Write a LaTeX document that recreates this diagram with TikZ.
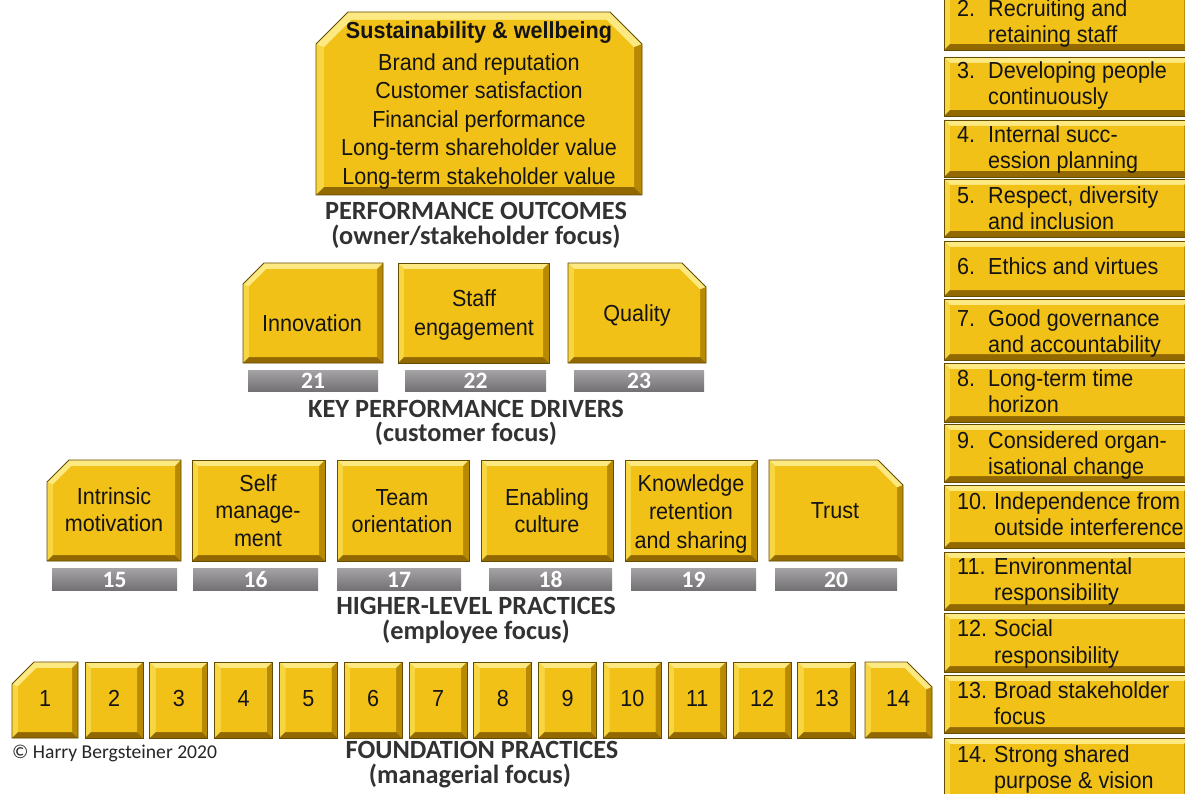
\documentclass[tikz,border=0pt]{standalone}
\usepackage{fontspec}
\setmainfont{Liberation Sans}
\newfontfamily\boxfont[FakeStretch=0.93]{Liberation Sans}
\newfontfamily\calfont{Carlito}
\definecolor{gF}{RGB}{242,193,24}
\definecolor{gT}{RGB}{253,233,130}
\definecolor{gL}{RGB}{248,214,66}
\definecolor{gR}{RGB}{184,138,4}
\definecolor{gB}{RGB}{145,105,0}
\definecolor{gE}{RGB}{100,76,0}
\definecolor{barTop}{RGB}{165,163,165}
\definecolor{barBot}{RGB}{115,113,115}
\definecolor{lbltxt}{RGB}{50,50,50}
\newcommand\corners[2]{%
  \pgfmathsetmacro\dk{0.414*#1}%
  \ifodd\gmode\relax
    \coordinate (#2a) at (\xa+#1, \ya+\cc+\dk);
    \coordinate (#2b) at (\xa+\cc+\dk, \ya+#1);
  \else
    \coordinate (#2a) at (\xa+#1, \ya+#1);
    \coordinate (#2b) at (\xa+#1, \ya+#1);
  \fi
  \ifnum\gmode>1\relax
    \coordinate (#2c) at (\xb-\cc-\dk, \ya+#1);
    \coordinate (#2d) at (\xb-#1, \ya+\cc+\dk);
  \else
    \coordinate (#2c) at (\xb-#1, \ya+#1);
    \coordinate (#2d) at (\xb-#1, \ya+#1);
  \fi
  \coordinate (#2e) at (\xb-#1, \yb-#1);
  \coordinate (#2f) at (\xa+#1, \yb-#1);
}
\newcommand\gbox[7]{%
  \def\xa{#1}\def\ya{#2}\def\xb{#3}\def\yb{#4}\def\gmode{#5}\def\cc{#6}%
  \corners{0}{o}\corners{#7}{i}%
  \fill[gT] (oa)--(ob)--(oc)--(od)--(oe)--(of)--cycle;
  \fill[gL] (oa)--(ia)--(if)--(of)--cycle;
  \fill[gR] (od)--(id)--(ie)--(oe)--cycle;
  \fill[gB] (of)--(if)--(ie)--(oe)--cycle;
  \fill[gF] (ia)--(ib)--(ic)--(id)--(ie)--(if)--cycle;
  \draw[gE,line width=0.8pt] (oa)--(ob)--(oc)--(od)--(oe)--(of)--cycle;
}
\newcommand\gbar[5]{%
  \shade[top color=barTop,bottom color=barBot] (#2,#3) rectangle (#4,#5);
}
\tikzset{
  boxtext/.style={font=\boxfont\fontsize{23.2}{26}\selectfont, text=black!92, inner sep=0pt},
  boldtext/.style={font=\boxfont\bfseries\fontsize{23.2}{26}\selectfont, text=black!92, inner sep=0pt},
  lbl/.style={font=\calfont\bfseries\fontsize{26.3}{30}\selectfont, text=lbltxt, inner sep=0pt, anchor=base},
  barnum/.style={font=\calfont\bfseries\fontsize{23.5}{26}\selectfont, text=white, inner sep=0pt, anchor=base},
  copyr/.style={font=\calfont\fontsize{19.6}{22}\selectfont, text=black!85, inner sep=0pt, anchor=base west}
}
\newcommand\ct[4]{\node[boxtext,anchor=base] (#1) at (#2,#3+8) {#4};}
\newcommand\rt[4]{\node[boxtext,anchor=base west] (#1) at (#2,#3+8) {#4};}
\begin{document}
\begin{tikzpicture}[x=1pt,y=-1pt]
\useasboundingbox (0,0) rectangle (1185,794);
\fill[white] (0,0) rectangle (1185,794);

% ---------- top box ----------
\gbox{316}{12}{642}{195}{3}{32}{8}
\node[boldtext,anchor=base] (top0) at (479,31+8) {Sustainability \& wellbeing};
\ct{top1}{479}{63}{Brand and reputation}
\ct{top2}{479}{91}{Customer satisfaction}
\ct{top3}{479}{120}{Financial performance}
\ct{top4}{479}{148}{Long-term shareholder value}
\ct{top5}{479}{177}{Long-term stakeholder value}
\node[lbl] (po1) at (476,212+8) {PERFORMANCE OUTCOMES};
\node[lbl] (po2) at (476,237+8) {(owner/stakeholder focus)};

% ---------- key performance drivers ----------
\gbox{243}{263}{383}{363}{1}{21}{6}
\gbox{398}{263}{549}{363}{0}{0}{6}
\gbox{568}{263}{706}{363}{2}{24}{6}
\ct{k1}{312}{323}{Innovation}
\ct{k2a}{474}{298}{Staff}
\ct{k2b}{474}{327}{engagement}
\ct{k3}{637}{313}{Quality}
\gbar{b21}{248}{370}{378}{391}
\gbar{b22}{405}{370}{546}{391}
\gbar{b23}{574}{370}{704}{391}
\node[barnum] (n21) at (313,380.5+8) {21};
\node[barnum] (n22) at (475.5,380.5+8) {22};
\node[barnum] (n23) at (639,380.5+8) {23};
\node[lbl] (kd1) at (466,409+8) {KEY PERFORMANCE DRIVERS};
\node[lbl] (kd2) at (466,433+8) {(customer focus)};

% ---------- higher-level practices ----------
\gbox{47}{460}{181}{561}{1}{22}{6}
\gbox{192}{460}{325}{561}{0}{0}{6}
\gbox{337}{460}{469}{561}{0}{0}{6}
\gbox{481}{460}{613}{561}{0}{0}{6}
\gbox{625}{460}{757}{561}{0}{0}{6}
\gbox{769}{460}{903}{561}{2}{25}{6}
\ct{h1a}{114}{496}{Intrinsic}
\ct{h1b}{114}{523}{motivation}
\ct{h2a}{258}{483}{Self}
\ct{h2b}{258}{510}{manage-}
\ct{h2c}{258}{538}{ment}
\ct{h3a}{402}{497}{Team}
\ct{h3b}{402}{524}{orientation}
\ct{h4a}{547}{497}{Enabling}
\ct{h4b}{547}{524}{culture}
\ct{h5a}{691}{483}{Knowledge}
\ct{h5b}{691}{511}{retention}
\ct{h5c}{691}{540}{and sharing}
\ct{h6}{835}{510}{Trust}
\gbar{b15}{52}{568}{177}{590}
\gbar{b16}{193}{568}{318}{590}
\gbar{b17}{337}{568}{461}{590}
\gbar{b18}{489}{568}{612}{590}
\gbar{b19}{631}{568}{756}{590}
\gbar{b20}{775}{568}{897}{590}
\node[barnum] (n15) at (114.5,579+8) {15};
\node[barnum] (n16) at (255.5,579+8) {16};
\node[barnum] (n17) at (399,579+8) {17};
\node[barnum] (n18) at (550.5,579+8) {18};
\node[barnum] (n19) at (693.5,579+8) {19};
\node[barnum] (n20) at (836,579+8) {20};
\node[lbl] (hl1) at (476,606+8) {HIGHER-LEVEL PRACTICES};
\node[lbl] (hl2) at (476,631+8) {(employee focus)};

% ---------- foundation practices ----------
\gbox{12}{662}{78}{738}{1}{22}{6}
\foreach \k in {2,...,13}{
  \pgfmathsetmacro\lx{85+(\k-2)*64.8}
  \pgfmathsetmacro\rx{\lx+58}
  \gbox{\lx}{662}{\rx}{738}{0}{0}{6}
}
\gbox{865}{662}{932}{738}{2}{25}{6}
\ct{f1}{45}{698}{1}
\foreach \k in {2,...,13}{
  \pgfmathsetmacro\cx{85+(\k-2)*64.8+29}
  \node[boxtext,anchor=base] (f\k) at (\cx,698+8) {\k};
}
\ct{f14}{898}{698}{14}
\node[lbl] (fp1) at (482,750+8) {FOUNDATION PRACTICES};
\node[lbl] (fp2) at (470,775+8) {(managerial focus)};
\node[copyr] (cr) at (12,758) {© Harry Bergsteiner 2020};

% ---------- right column ----------
\gbox{944}{-10}{1190}{50}{0}{0}{6}
\gbox{944}{57}{1190}{116}{0}{0}{6}
\gbox{944}{120}{1190}{177}{0}{0}{6}
\gbox{944}{179}{1190}{237}{0}{0}{6}
\gbox{944}{241}{1190}{296}{0}{0}{6}
\gbox{944}{299}{1190}{360}{0}{0}{6}
\gbox{944}{363}{1190}{422}{0}{0}{6}
\gbox{944}{424}{1190}{482}{0}{0}{6}
\gbox{944}{485}{1190}{548}{0}{0}{6}
\gbox{944}{552}{1190}{610}{0}{0}{6}
\gbox{944}{613}{1190}{672}{0}{0}{6}
\gbox{944}{675}{1190}{733}{0}{0}{6}
\gbox{944}{738}{1190}{800}{0}{0}{6}
\rt{r2n}{957}{9}{2.}   \rt{r2a}{988}{9}{Recruiting and}   \rt{r2b}{988}{35}{retaining staff}
\rt{r3n}{957}{71}{3.}  \rt{r3a}{988}{71}{Developing people} \rt{r3b}{988}{97}{continuously}
\rt{r4n}{957}{135}{4.} \rt{r4a}{988}{135}{Internal succ-}   \rt{r4b}{988}{161}{ession planning}
\rt{r5n}{957}{196}{5.} \rt{r5a}{988}{196}{Respect, diversity} \rt{r5b}{988}{222}{and inclusion}
\rt{r6n}{957}{266}{6.} \rt{r6a}{988}{266}{Ethics and virtues}
\rt{r7n}{957}{318}{7.} \rt{r7a}{988}{318}{Good governance}  \rt{r7b}{988}{344}{and accountability}
\rt{r8n}{957}{378}{8.} \rt{r8a}{988}{378}{Long-term time}   \rt{r8b}{988}{404}{horizon}
\rt{r9n}{957}{440}{9.} \rt{r9a}{988}{440}{Considered organ-} \rt{r9b}{988}{466}{isational change}
\rt{r10n}{957}{501}{10.} \rt{r10a}{994}{501}{Independence from} \rt{r10b}{994}{527}{outside interference}
\rt{r11n}{957}{566}{11.} \rt{r11a}{994}{566}{Environmental}  \rt{r11b}{994}{592}{responsibility}
\rt{r12n}{957}{628}{12.} \rt{r12a}{994}{628}{Social}         \rt{r12b}{994}{655}{responsibility}
\rt{r13n}{957}{690}{13.} \rt{r13a}{994}{690}{Broad stakeholder} \rt{r13b}{994}{716}{focus}
\rt{r14n}{957}{754}{14.} \rt{r14a}{994}{754}{Strong shared}  \rt{r14b}{994}{780}{purpose \& vision}
\end{tikzpicture}
\end{document}
